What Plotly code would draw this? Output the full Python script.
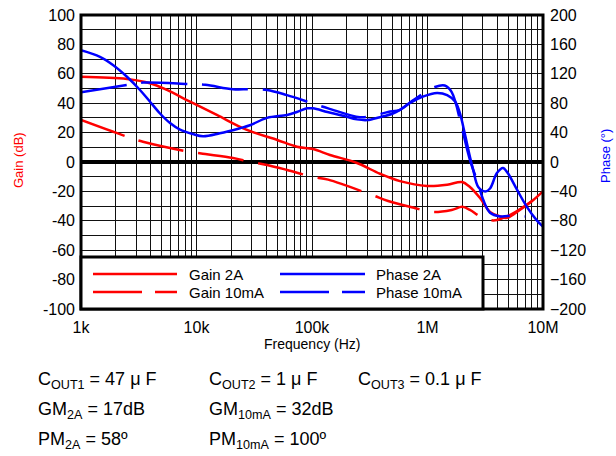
import plotly.graph_objects as go

# ---------------- data ----------------
gain2a_f = [1e3, 2.5e3, 3.96e3, 5.55e3, 8.8e3, 15e3, 27e3, 50e3, 74e3, 102e3, 143e3,
            245e3, 388e3, 578e3, 990e3, 1.48e6, 1.99e6, 2.33e6, 2.85e6, 3.48e6, 4.25e6,
            4.88e6, 6.3e6, 8.2e6, 10e6]
gain2a_db = [58, 56.5, 53.6, 49, 41, 32, 22, 15, 10.4, 8.8, 4.8,
             -0.7, -8, -13, -16.3, -15.5, -13.6, -17, -24.5, -34, -37,
             -38, -32.6, -26, -20]

gain10_f = [1e3, 2.55e3, 3.44e3, 8.6e3, 11.9e3, 20.7e3, 29e3, 40.8e3, 60.8e3, 100e3,
            138e3, 330e3, 456e3, 749e3, 1.11e6, 1.62e6, 2.0e6, 2.33e6, 2.85e6, 3.48e6,
            3.99e6, 5.5e6, 7.25e6, 10e6]
gain10_db = [28.6, 17, 13.8, 7, 5.4, 2.7, 0.2, -2, -5.4, -10,
             -12, -22.4, -26.5, -31, -34, -32.6, -30.5, -32.6, -37, -39.5,
             -39.5, -35, -29, -21]

phase2a_f = [1e3, 1.46e3, 1.89e3, 2.5e3, 3.24e3, 3.96e3, 4.83e3, 5.9e3, 7.2e3, 9.3e3,
             11.4e3, 15.9e3, 23.8e3, 29e3, 40.8e3, 60.8e3, 74e3, 90.5e3, 102e3, 136e3,
             186e3, 245e3, 300e3, 388e3, 502e3, 578e3, 700e3, 911e3, 1.21e6, 1.48e6,
             1.74e6, 1.91e6, 2.1e6, 2.33e6, 2.49e6, 2.75e6, 3.16e6, 3.48e6, 3.99e6, 4.5e6,
             4.95e6, 5.97e6, 7.25e6, 8.8e6, 10e6]
phase2a_deg = [152, 143, 132, 116, 98, 82, 66, 53, 44, 38,
               35, 39, 46, 50, 60, 64, 68, 73, 73, 68,
               63, 58, 57, 61, 66, 71, 80, 89, 94, 91,
               82, 66, 39, 7, -11, -34, -40, -36, -15, -8,
               -15, -38, -61, -79, -88]

phase10_f = [1e3, 2.55e3, 3.44e3, 8.6e3, 11.9e3, 20.7e3, 29e3, 40.8e3, 60.8e3, 100e3,
             138e3, 260e3, 339e3, 456e3, 578e3, 749e3, 1.16e6, 1.41e6, 1.62e6, 2.0e6,
             2.33e6, 2.75e6, 3.03e6, 3.48e6, 4.25e6, 5.5e6, 7.0e6]
phase10_deg = [95, 105, 108, 106, 105, 99, 99, 98, 91, 80,
               73, 61, 63, 68, 71, 84, 102, 104, 95, 44,
               3, -30, -51, -69, -74, -73, -74]

x_decades = [1e3, 1e4, 1e5, 1e6, 1e7]
x_labels = ["1k", "10k", "100k", "1M", "10M"]
gain_ticks = list(range(-100, 101, 20))
phase_ticks = list(range(-200, 201, 40))

# ---------------- layout helpers ----------------
W, H = 616, 456
L, R, T, B = 81, 543, 15, 309
FONT = "Arial, Liberation Sans, sans-serif"


def px(x):
    return (x - L) / (R - L)


def py(y):
    return (B - y) / (B - T)


RED = "#ff0000"
BLUE = "#0000ff"
DASH = "46px,15px"

fig = go.Figure()
fig.add_trace(go.Scatter(x=gain2a_f, y=gain2a_db, mode="lines", line=dict(color=RED, width=2.5, shape="spline"), showlegend=False))
fig.add_trace(go.Scatter(x=gain10_f, y=gain10_db, mode="lines", line=dict(color=RED, width=2.5, dash=DASH, shape="spline"), showlegend=False))
fig.add_trace(go.Scatter(x=phase2a_f, y=phase2a_deg, yaxis="y2", mode="lines", line=dict(color=BLUE, width=2.5, shape="spline"), showlegend=False))
fig.add_trace(go.Scatter(x=phase10_f, y=phase10_deg, yaxis="y2", mode="lines", line=dict(color=BLUE, width=2.5, dash=DASH, shape="spline"), showlegend=False))

# grid positions
xgrid = []
for dec in x_decades[:-1]:
    for k in range(1, 10):
        xgrid.append(dec * k)
xgrid.append(x_decades[-1])
xtext = [x_labels[x_decades.index(v)] if v in x_decades else "" for v in xgrid]

ygrid = list(range(-100, 101, 10))
ytext = [str(v) if v in gain_ticks else "" for v in ygrid]

fig.update_layout(
    width=W, height=H,
    margin=dict(l=L, r=W - R, t=T, b=H - B),
    paper_bgcolor="white", plot_bgcolor="white",
    font=dict(family=FONT, size=16, color="black"),
    xaxis=dict(type="log", range=[3, 7], tickvals=xgrid, ticktext=xtext, showgrid=True,
               gridcolor="#111111", gridwidth=1.2, ticks="", zeroline=False, automargin=False,
               ticklabelstandoff=7, tickfont=dict(size=16)),
    yaxis=dict(range=[-100, 100], tickvals=ygrid, ticktext=ytext, showgrid=True,
               gridcolor="#111111", gridwidth=1.2, ticks="", zeroline=True, automargin=False,
               ticklabelstandoff=5,
               zerolinecolor="black", zerolinewidth=3.5, tickfont=dict(size=16)),
    yaxis2=dict(range=[-200, 200], overlaying="y", side="right", tickvals=phase_ticks,
                showgrid=False, zeroline=False, ticks="", automargin=False,
                ticklabelstandoff=6, tickfont=dict(size=16)),
    showlegend=False,
)

shapes = []
# plot border
shapes.append(dict(type="rect", xref="paper", yref="paper", x0=0, x1=1, y0=0, y1=1,
                   line=dict(color="black", width=3), layer="above"))
# legend box
shapes.append(dict(type="rect", xref="paper", yref="paper", x0=px(81), x1=px(483), y0=py(309), y1=py(257),
                   fillcolor="white", line=dict(color="black", width=3), layer="above"))
leg = [("Gain 2A", RED, "solid", 93, 177, 274, 187),
       ("Gain 10mA", RED, "49px,13px", 93, 177, 292, 187),
       ("Phase 2A", BLUE, "solid", 280, 365, 274, 374),
       ("Phase 10mA", BLUE, "49px,13px", 280, 365, 292, 374)]
annotations = []
for name, col, dash, x0, x1, yy, tx in leg:
    shapes.append(dict(type="line", xref="paper", yref="paper", x0=px(x0), x1=px(x1), y0=py(yy), y1=py(yy),
                       line=dict(color=col, width=2.5, dash=dash), layer="above"))
    annotations.append(dict(text=name, xref="paper", yref="paper", x=px(tx), y=py(yy), xanchor="left",
                            yanchor="middle", showarrow=False, font=dict(size=15, color="black")))

# axis titles
annotations.append(dict(text="Gain (dB)", xref="paper", yref="paper", x=px(18), y=py(160), textangle=-90,
                        showarrow=False, font=dict(size=13, color=RED), xanchor="center", yanchor="middle"))
annotations.append(dict(text="Phase (°)", xref="paper", yref="paper", x=px(605), y=py(156), textangle=-90,
                        showarrow=False, font=dict(size=13, color=BLUE), xanchor="center", yanchor="middle"))
annotations.append(dict(text="Frequency (Hz)", xref="paper", yref="paper", x=px(312), y=py(344),
                        showarrow=False, font=dict(size=14, color="black"), xanchor="center", yanchor="middle"))

# bottom notes
notes = [("C<sub>OUT1</sub> = 47 μ F", 36, 380), ("C<sub>OUT2</sub> = 1 μ F", 207, 380),
         ("C<sub>OUT3</sub> = 0.1 μ F", 356, 380),
         ("GM<sub>2A</sub> = 17dB", 36, 410), ("GM<sub>10mA</sub> = 32dB", 207, 410),
         ("PM<sub>2A</sub> = 58º", 36, 440), ("PM<sub>10mA</sub> = 100º", 207, 440)]
for txt, x, y in notes:
    annotations.append(dict(text=txt, xref="paper", yref="paper", x=px(x), y=py(y), xanchor="left",
                            yanchor="middle", showarrow=False, font=dict(size=18, color="black")))

fig.update_layout(shapes=shapes, annotations=annotations)
fig.write_html("out.html")
